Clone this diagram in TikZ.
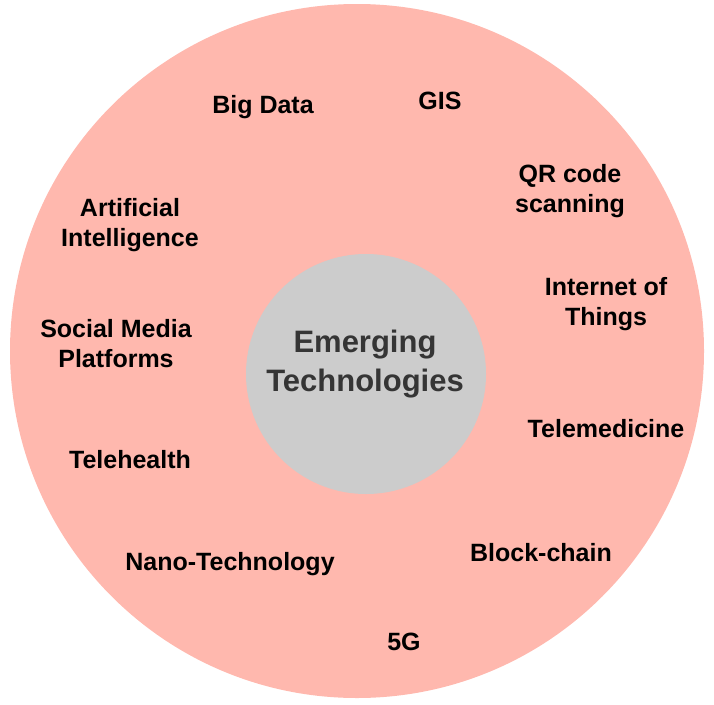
\documentclass[tikz,border=0pt]{standalone}
\usepackage{fontspec}
\setmainfont{Liberation Sans}
\definecolor{ringpink}{HTML}{FFB8AE}
\definecolor{coregray}{HTML}{CCCCCC}
\definecolor{coretext}{HTML}{353535}
\begin{document}
\begin{tikzpicture}[
        x=1pt,
        y=-1pt,
        font=\bfseries\fontsize{25}{30}\selectfont
    ]
    \tikzset{
        ring/.style = {circle, fill=ringpink, minimum size=694pt, inner sep=0},
        core/.style = {circle, fill=coregray, minimum size=240pt, inner sep=0},
        tech/.style = {align=center, inner sep=0, text=black},
        hubtext/.style = {align=center, inner sep=0, text=coretext,
                          font=\bfseries\fontsize{31}{39}\selectfont},
    }
    \useasboundingbox (0,0) rectangle (714,704);
    \node[ring] at (357,351) (rim) {};
    \node[core] at (366,374) (hub) {};
    \node[hubtext] at (365,364) (emtech) {Emerging\\Technologies};
    %
    \node[tech] at (263,107) (bigdata) {Big Data};
    \node[tech] at (440,101) (gis) {GIS};
    \node[tech] at (570,191) (qrcode) {QR code\\scanning};
    \node[tech] at (130,225) (ai) {Artificial\\Intelligence};
    \node[tech] at (606,304) (iot) {Internet of\\Things};
    \node[tech] at (116,344) (social) {Social Media\\Platforms};
    \node[tech] at (606,429) (telemed) {Telemedicine};
    \node[tech] at (130,460) (telehealth) {Telehealth};
    \node[tech] at (541,553) (blockchain) {Block-chain};
    \node[tech] at (230,564) (nanotech) {Nano-Technology};
    \node[tech] at (404,642) (fiveg) {5G};
\end{tikzpicture}
\end{document}
